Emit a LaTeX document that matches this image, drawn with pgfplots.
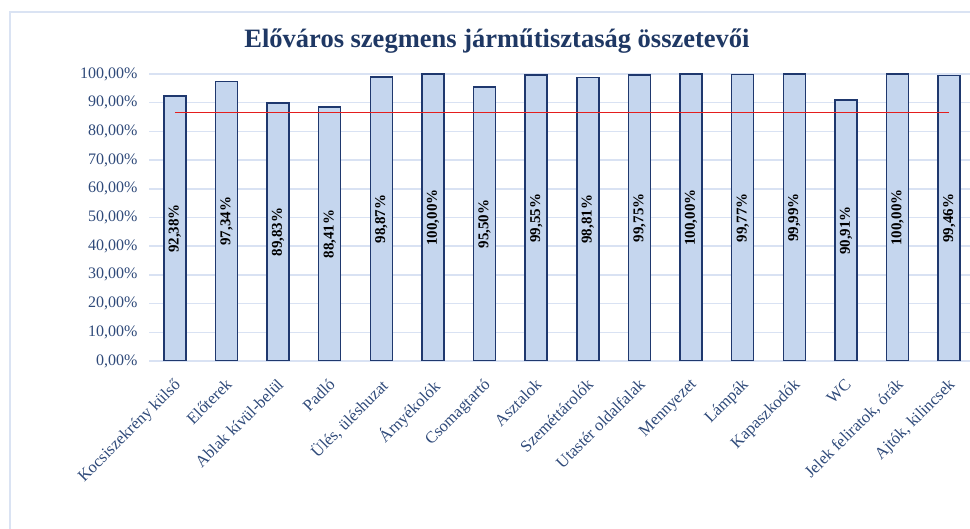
\documentclass[border=0pt]{standalone}
\usepackage{fontspec}
\setmainfont{Liberation Serif}
\usepackage{pgfplots}
\usepackage{pgfplotstable}
\pgfplotsset{compat=1.18}
\definecolor{titleblue}{RGB}{31,56,100}
\definecolor{tickblue}{RGB}{47,74,122}
\definecolor{gridblue}{RGB}{217,226,243}
\definecolor{barfill}{RGB}{197,214,238}
\definecolor{barline}{RGB}{31,56,110}
\definecolor{framec}{RGB}{218,227,243}
\definecolor{avgred}{RGB}{228,30,30}

\pgfplotstableread{
x y
0 92.38
1 97.34
2 89.83
3 88.41
4 98.87
5 100.00
6 95.50
7 99.55
8 98.81
9 99.75
10 100.00
11 99.77
12 99.99
13 90.91
14 100.00
15 99.46
}\data

\begin{document}
\begin{tikzpicture}
\useasboundingbox (0pt,0pt) rectangle (970pt,529pt);
\clip (0pt,0pt) rectangle (970pt,529pt);
\fill[white] (0pt,0pt) rectangle (970pt,529pt);
\draw[framec, line width=1.5pt] (10pt,-5pt) -- (10pt,517pt) -- (980pt,517pt);
\node[font=\fontsize{26.5}{30}\selectfont\bfseries, text=titleblue] at (497pt,488pt) {Előváros szegmens járműtisztaság összetevői};
\begin{axis}[at={(149pt,168pt)}, anchor=south west, scale only axis,
  width=826pt, height=287pt,
  xmin=-0.5, xmax=15.5, ymin=0, ymax=100,
  axis line style={draw=none},
  major tick length=0pt,
  ymajorgrids, grid style={gridblue, line width=1.5pt},
  ytick={0,10,...,100},
  yticklabels={{0,00\%},{10,00\%},{20,00\%},{30,00\%},{40,00\%},{50,00\%},{60,00\%},{70,00\%},{80,00\%},{90,00\%},{100,00\%}},
  yticklabel style={font=\fontsize{16}{18}\selectfont, text=tickblue, xshift=-8pt},
  xtick={0,...,15},
  xticklabels={Kocsiszekrény külső,Előterek,Ablak kívül-belül,Padló,{Ülés, üléshuzat},Árnyékolók,Csomagtartó,Asztalok,Szeméttárolók,Utastér oldalfalak,Mennyezet,Lámpák,Kapaszkodók,WC,{Jelek feliratok, órák},{Ajtók, kilincsek}},
  xticklabel style={rotate=45, anchor=north east, font=\fontsize{16.5}{19}\selectfont, text=tickblue, yshift=-7pt, xshift=-9.5pt},
]
\addplot[ybar, bar width=22pt, fill=barfill, draw=barline, line width=1.6pt] table[x=x,y=y]{\data};
\addplot[avgred, line width=1.2pt] coordinates {(0,86.7) (15,86.7)};
\addplot[only marks, mark=text, text mark={},
  point meta=explicit,
  nodes near coords={\pgfmathprintnumber[fixed,fixed zerofill,precision=2,use comma,assume math mode=true]{\pgfplotspointmeta}\%},
  every node near coord/.append style={rotate=90, anchor=center, font=\bfseries\fontsize{15}{17}\selectfont, text=black}]
  table[x=x, y expr=\thisrow{y}/2, meta=y]{\data};
\end{axis}
\end{tikzpicture}
\end{document}
